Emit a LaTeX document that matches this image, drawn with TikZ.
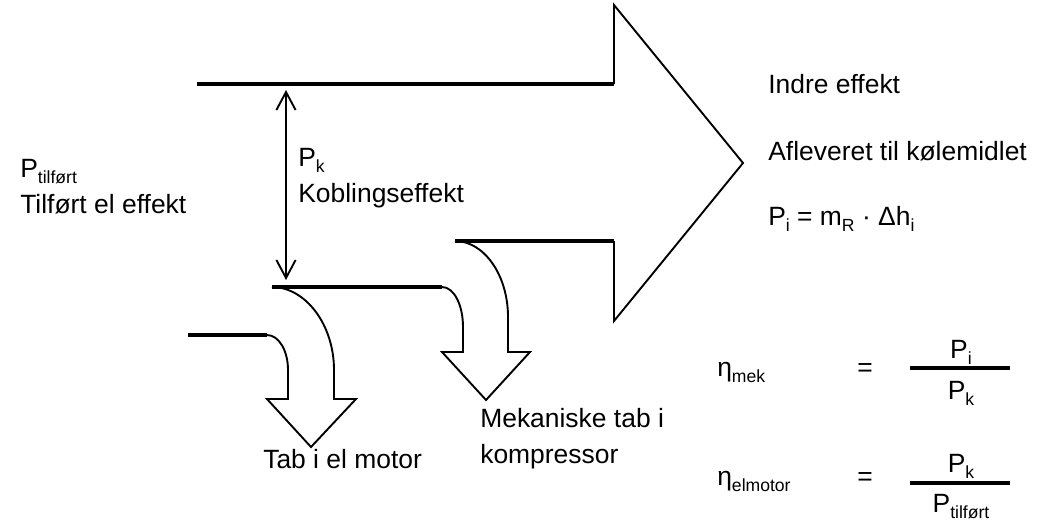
\documentclass[tikz,border=0pt]{standalone}
\usepackage{fontspec}
\setmainfont{Liberation Sans}
\usetikzlibrary{arrows.meta}
\newcommand{\sbs}[1]{\raisebox{-0.15cm}{\fontsize{12.5}{12.5}\selectfont #1}}
\begin{document}
\begin{tikzpicture}[x=0.025cm,y=-0.025cm,
  flow/.style={line width=2.4pt},
  rim/.style={line width=1.35pt,line join=miter},
  bar/.style={line width=2.4pt},
  lbl/.style={inner sep=0pt,anchor=base west,align=left,
    font=\fontsize{18.8}{25.2}\selectfont},
  >={Straight Barb[length=0.45cm,width=0.48cm]}]
  \useasboundingbox (0,0) rectangle (1043,520);
  % main flow
  \coordinate (T0) at (197,84);
  \coordinate (T1) at (614,84);
  \coordinate (B0) at (455,241);
  \coordinate (B1) at (614,241);
  \draw[flow] (T0)--(T1);
  \draw[flow] (B0)--(B1);
  \draw[rim] (T1)--(614,5)--(743,163)--(614,321)--(B1);
  % inlet edges
  \coordinate (L0) at (188,335);
  \coordinate (L1) at (267,335);
  \coordinate (M0) at (272,287);
  \coordinate (M1) at (442,287);
  \draw[flow] (L0)--(L1);
  \draw[flow] (M0)--(M1);
  % loss in el motor
  \draw[rim] (L1) .. controls (279,335) and (288,351) .. (288,370)
    -- (288,399) -- (267,399) -- (311,447) -- (356,399) -- (334,399)
    -- (334,370) .. controls (334,324) and (305,287) .. (M0);
  % mechanical loss
  \draw[rim] (B0) .. controls (484,241) and (508,275) .. (508,317)
    -- (508,352) -- (530,352) -- (486,400) -- (442,352) -- (463,352)
    -- (463,327) .. controls (463,305) and (454,287) .. (M1);
  % coupling power
  \coordinate (Ktop) at (286,90);
  \coordinate (Kbot) at (286,280);
  \draw[rim,<->] (Ktop)--(Kbot);
  % labels (base = last line)
  \node[lbl] (ptil) at (20,213) {P\sbs{tilført}\\Tilført el effekt};
  \node[lbl] (pk) at (298,202) {P\sbs{k}\\Koblingseffekt};
  \node[lbl] (indre) at (768,93) {Indre effekt};
  \node[lbl] (aflev) at (768,160) {Afleveret til kølemidlet};
  \node[lbl] (pi) at (768,225) {P\sbs{i} = m\sbs{R} · Δh\sbs{i}};
  \node[lbl] (tabel) at (263,468) {Tab i el motor};
  \node[lbl] (tabmek) at (480,463) {Mekaniske tab i\\kompressor};
  % efficiencies
  \node[lbl] (etamek) at (717,376) {η\sbs{mek}};
  \node[lbl] (eqmek) at (857,376) {=};
  \coordinate (fm0) at (910,368);
  \coordinate (fm1) at (1010,368);
  \draw[bar] (fm0)--(fm1);
  \node[lbl,anchor=base] (nummek) at (961,358) {P\sbs{i}};
  \node[lbl,anchor=base] (denmek) at (961,399) {P\sbs{k}};
  \node[lbl] (etael) at (717,485) {η\sbs{elmotor}};
  \node[lbl] (eqel) at (857,485) {=};
  \coordinate (fe0) at (910,483);
  \coordinate (fe1) at (1010,483);
  \draw[bar] (fe0)--(fe1);
  \node[lbl,anchor=base] (numel) at (961,472) {P\sbs{k}};
  \node[lbl,anchor=base] (denel) at (961,512) {P\sbs{tilført}};
\end{tikzpicture}
\end{document}
